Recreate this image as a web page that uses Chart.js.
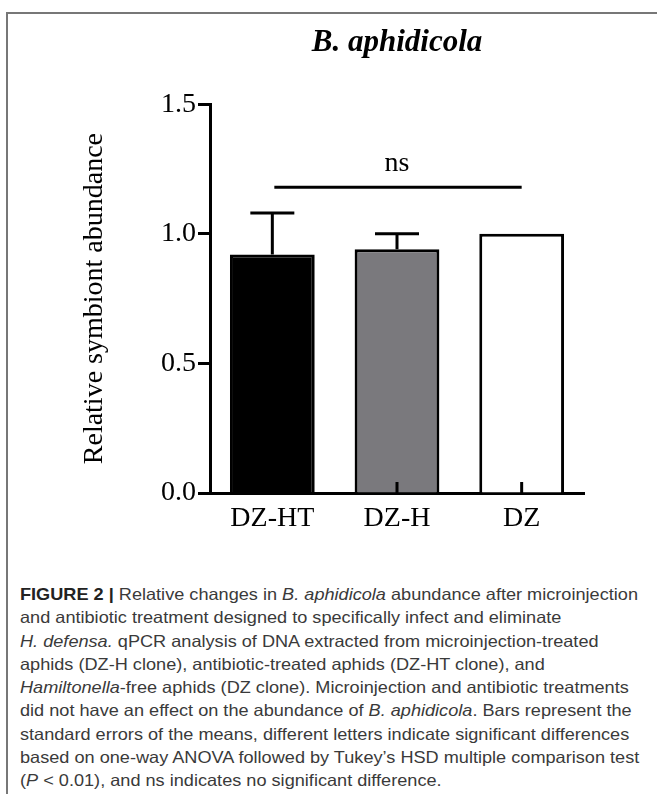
<!DOCTYPE html>
<html>
<head>
<meta charset="utf-8">
<script src="https://cdn.jsdelivr.net/npm/chart.js@4/dist/chart.umd.min.js"></script>
<style>
  html, body { margin: 0; padding: 0; background: #fff; }
  body { width: 657px; height: 794px; position: relative; overflow: hidden; }
  #frame { position: absolute; left: 6px; top: 12px; width: 700px; height: 800px;
           border-top: 2px solid #777; border-left: 2px solid #777; }
  #wrap { position: absolute; left: 0; top: 0; width: 657px; height: 545px; }
  #caption { position: absolute; left: 20px; top: 583px; font-family: "Liberation Sans", Arial, sans-serif;
             font-size: 16.5px; line-height: 23.3px; color: #3a3a3a; transform-origin: 0 0; }
  #caption div { white-space: nowrap; }
  #caption span { display: inline-block; }
  #caption b { color: #222; }
</style>
</head>
<body>
<div id="frame"></div>
<div id="wrap"><canvas id="barras"></canvas></div>
<div id="caption">
  <div><span id="cap1"><b>FIGURE 2 |</b> Relative changes in <i>B. aphidicola</i> abundance after microinjection</span></div>
  <div>and antibiotic treatment designed to specifically infect and eliminate</div>
  <div><i>H. defensa.</i> qPCR analysis of DNA extracted from microinjection-treated</div>
  <div>aphids (DZ-H clone), antibiotic-treated aphids (DZ-HT clone), and</div>
  <div><i>Hamiltonella</i>-free aphids (DZ clone). Microinjection and antibiotic treatments</div>
  <div>did not have an effect on the abundance of <i>B. aphidicola</i>. Bars represent the</div>
  <div>standard errors of the means, different letters indicate significant differences</div>
  <div>based on one-way ANOVA followed by Tukey’s HSD multiple comparison test</div>
  <div>(<i>P</i> &lt; 0.01), and ns indicates no significant difference.</div>
</div>
<script>
// datos
const grupos = ["DZ-HT", "DZ-H", "DZ"];
const abundancia = [0.92, 0.94, 1.00];
const errorEst = [0.16, 0.06, 0];
const colores = ["#000000", "#7a797d", "#ffffff"];
const ticksY = [0, 0.5, 1.0, 1.5];
const nsNivel = 1.18;
const nsTexto = "ns";

const serif = "'Liberation Serif', 'Times New Roman', serif";

// barras de error, linea ns y marcas del eje x
const extras = {
  id: 'extras',
  afterDatasetsDraw(chart) {
    const ctx = chart.ctx;
    const y = chart.scales.y;
    const x = chart.scales.x;
    const meta = chart.getDatasetMeta(0);
    ctx.save();
    ctx.strokeStyle = '#000';
    ctx.lineWidth = 3;
    ctx.lineCap = 'butt';
    // marcas hacia arriba en el eje x
    grupos.forEach((g, i) => {
      const px = x.getPixelForValue(i);
      ctx.beginPath();
      ctx.moveTo(px, chart.chartArea.bottom);
      ctx.lineTo(px, chart.chartArea.bottom - 11);
      ctx.stroke();
    });
    meta.data.forEach((bar, i) => {
      if (!errorEst[i]) return;
      const top = y.getPixelForValue(abundancia[i] + errorEst[i]);
      ctx.beginPath();
      ctx.moveTo(bar.x, bar.y);
      ctx.lineTo(bar.x, top);
      ctx.moveTo(bar.x - 22, top);
      ctx.lineTo(bar.x + 22, top);
      ctx.stroke();
    });
    const ly = y.getPixelForValue(nsNivel);
    const x0 = x.getPixelForValue(0);
    const x2 = x.getPixelForValue(grupos.length - 1);
    ctx.beginPath();
    ctx.moveTo(x0 + 2, ly);
    ctx.lineTo(x2, ly);
    ctx.stroke();
    ctx.fillStyle = '#000';
    ctx.font = "28px " + serif;
    ctx.textAlign = 'center';
    ctx.textBaseline = 'alphabetic';
    ctx.fillText(nsTexto, (x0 + x2) / 2, ly - 16);
    ctx.restore();
  }
};

const ctxBar = document.getElementById("barras");

const configBar = {
  type: 'bar',
  data: {
    labels: grupos,
    datasets: [{
      label: 'Relative symbiont abundance',
      data: abundancia,
      backgroundColor: colores,
      borderColor: '#000',
      borderWidth: 3,
      borderSkipped: 'bottom',
      barPercentage: 0.68,
      categoryPercentage: 1.0
    }]
  },
  options: {
    responsive: false,
    animation: false,
    devicePixelRatio: 1,
    layout: { padding: { left: 0, top: 0, right: 73, bottom: 0 } },
    plugins: {
      legend: { display: false },
      tooltip: { enabled: false },
      title: {
        display: true,
        text: 'B. aphidicola',
        fullSize: false,
        color: '#000',
        font: { family: serif, size: 31, style: 'italic', weight: 'bold' },
        padding: { top: 24, bottom: 43 }
      }
    },
    scales: {
      x: {
        grid: { display: false, drawTicks: false },
        border: { display: true, color: '#000', width: 3 },
        ticks: { color: '#000', font: { family: serif, size: 28 }, padding: 9 },
        afterFit(s) { s.height = 52; }
      },
      y: {
        min: 0,
        max: 1.5,
        afterBuildTicks(s) { s.ticks = ticksY.map(v => ({ value: v })); },
        grid: { drawOnChartArea: false, drawTicks: true, tickLength: 12, tickWidth: 3, tickColor: '#000' },
        border: { display: true, color: '#000', width: 3 },
        ticks: { color: '#000', font: { family: serif, size: 28 }, padding: 2,
                 callback: v => Number(v).toFixed(1) },
        title: { display: true, text: 'Relative symbiont abundance', color: '#000',
                 font: { family: serif, size: 28 }, padding: { top: 78, bottom: 0 } },
        afterFit(s) { s.width = 210; }
      }
    }
  },
  plugins: [extras]
};

ctxBar.width = 657;
ctxBar.height = 545;
let graficoBar = new Chart(ctxBar, configBar);

// ajustar el ancho del texto del pie
const cap = document.getElementById("caption");
const w1 = document.getElementById("cap1").getBoundingClientRect().width;
cap.style.transform = "scaleX(" + (618 / w1) + ")";
</script>
</body>
</html>
